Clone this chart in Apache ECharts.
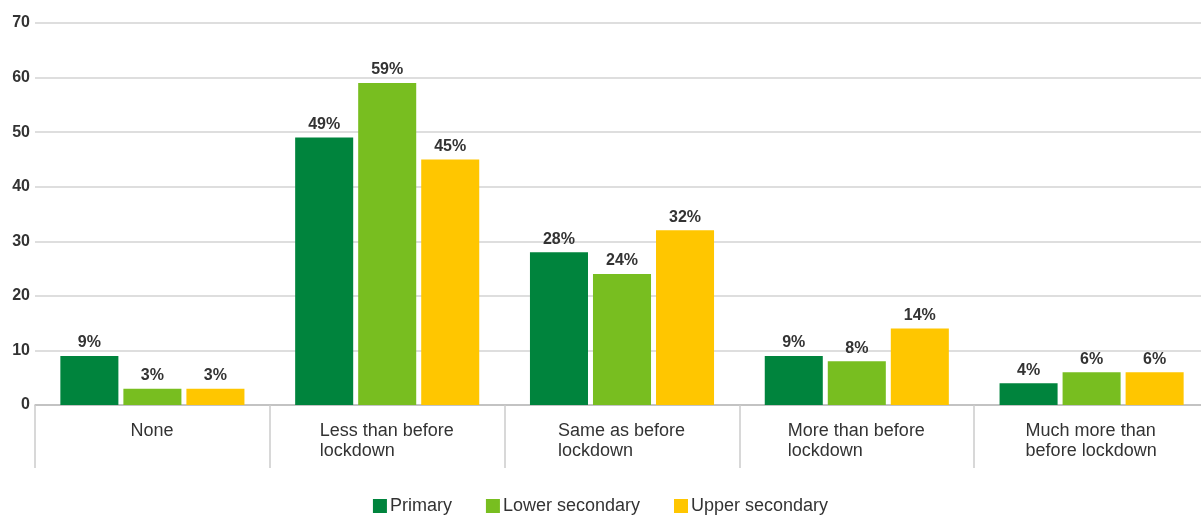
<!DOCTYPE html>
<html>
<head>
<meta charset="utf-8">
<script src="https://cdn.jsdelivr.net/npm/echarts@6/dist/echarts.min.js"></script>
<style>
  html, body { margin: 0; padding: 0; background: #fff; }
  #chart { width: 1201px; height: 515px; }
</style>
</head>
<body>
<div id="chart"></div>
<script>
var categories = ['None', 'Less than before\nlockdown', 'Same as before\nlockdown', 'More than before\nlockdown', 'Much more than\nbefore lockdown'];
var primary = [9, 49, 28, 9, 4];
var lowerSecondary = [3, 59, 24, 8, 6];
var upperSecondary = [3, 45, 32, 14, 6];
var yTicks = [0, 10, 20, 30, 40, 50, 60, 70];

var font = 'Liberation Sans, Arial, sans-serif';
var catFontSize = 18;

// widest line of a label, so lines can be left aligned inside a centred block
var measureCtx = document.createElement('canvas').getContext('2d');
measureCtx.font = catFontSize + 'px ' + font;
function widestLine(text){
	var w = 0;
	text.split('\n').forEach(function(s){
		w = Math.max(w, measureCtx.measureText(s).width);
	});
	return Math.ceil(w);
}

var catRich = {};
categories.forEach(function(c, i){
	catRich['c' + i] = { width: widestLine(c), align: 'left', fontSize: catFontSize, lineHeight: 20, fontFamily: font, color: '#333' };
});

function makeSeries(name, values, color){
	return {
		name: name,
		type: 'bar',
		data: values,
		barGap: '8.6%',
		barCategoryGap: '21.6%',
		itemStyle: { color: color },
		label: {
			show: true,
			position: 'top',
			distance: 5,
			formatter: '{c}%',
			color: '#333',
			fontFamily: font,
			fontWeight: 'bold',
			fontSize: 16
		}
	};
}

var chart = echarts.init(document.getElementById('chart'));
chart.setOption({
	animation: false,
	// plot runs past the right edge, as in the cropped original
	grid: { left: 35, width: 1174, top: 23, height: 382, outerBoundsMode: 'none' },
	legend: {
		top: 492,
		left: 'center',
		itemWidth: 14,
		itemHeight: 14,
		itemGap: 34,
		icon: 'rect',
		textStyle: { color: '#333', fontSize: 18, fontFamily: font, padding: [0, 0, 0, -2] },
		data: ['Primary', 'Lower secondary', 'Upper secondary']
	},
	xAxis: {
		type: 'category',
		data: categories,
		axisLine: { lineStyle: { color: '#bbb', width: 1.5 } },
		axisTick: { show: true, length: 63, lineStyle: { color: '#ccc', width: 1.5 } },
		axisLabel: {
			margin: 16,
			interval: 0,
			color: '#333',
			fontFamily: font,
			fontSize: catFontSize,
			lineHeight: 20,
			formatter: function(v, i){
				return v.split('\n').map(function(s){ return '{c' + i + '|' + s + '}'; }).join('\n');
			},
			rich: catRich
		}
	},
	yAxis: {
		type: 'value',
		min: yTicks[0],
		max: yTicks[yTicks.length - 1],
		interval: 10,
		axisLine: { show: false },
		axisTick: { show: false },
		splitLine: { lineStyle: { color: '#d3d3d3', width: 1.5 } },
		axisLabel: {
			margin: 5,
			color: '#333',
			fontFamily: font,
			fontWeight: 'bold',
			fontSize: 16
		}
	},
	series: [
		makeSeries('Primary', primary, '#00843d'),
		makeSeries('Lower secondary', lowerSecondary, '#78be20'),
		makeSeries('Upper secondary', upperSecondary, '#ffc600')
	]
});
</script>
</body>
</html>
